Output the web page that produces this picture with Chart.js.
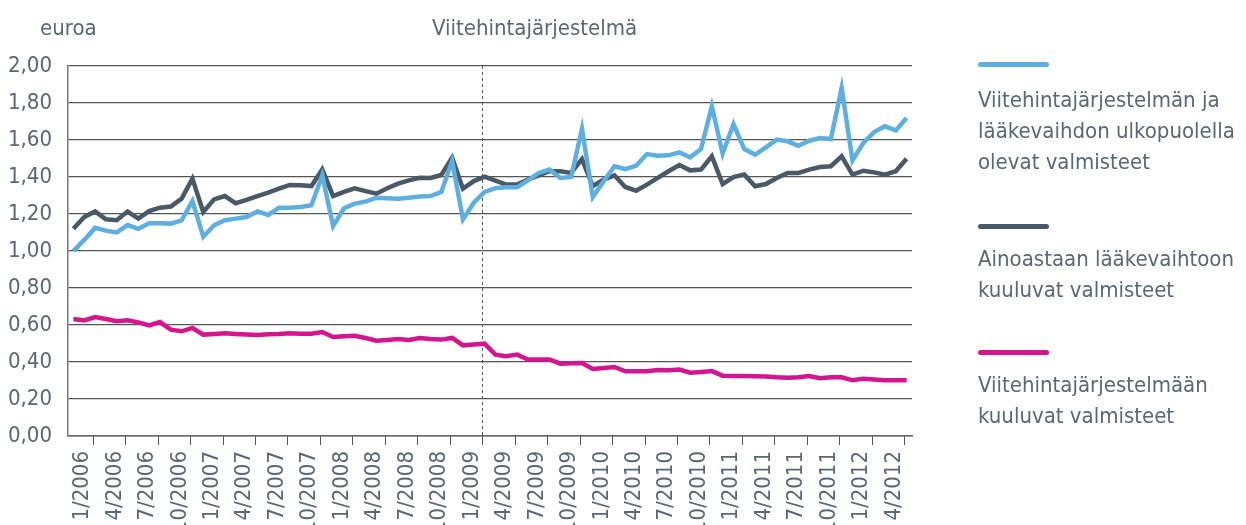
<!DOCTYPE html>
<html lang="fi">
<head>
<meta charset="utf-8">
<script src="https://cdn.jsdelivr.net/npm/chart.js@4.4.1/dist/chart.umd.min.js"></script>
<style>
    body {
        margin: 0;
        background: #fff;
        overflow: hidden;
    }
    #wrap {
        position: relative;
        width: 1246px;
        height: 525px;
        font-family: "DejaVu Sans Condensed", "Liberation Sans", sans-serif;
        color: #5a6775;
    }
    .note {
        position: absolute;
        font-size: 22px;
        line-height: 31px;
        white-space: nowrap;
    }
    .legend-item {
        position: absolute;
        left: 978px;
        font-size: 22px;
        line-height: 31px;
        white-space: nowrap;
    }
    .legend-item .swatch {
        width: 71px;
        height: 5px;
        border-radius: 3px;
        margin-bottom: 14px;
    }
</style>
</head>
<body>
<div id="wrap">
    <canvas id="priceChart"></canvas>
    <div class="note" style="left: 40px; top: 12px;">euroa</div>
    <div class="note" style="left: 432px; top: 12px;">Viitehintajärjestelmä</div>
    <div id="legend"></div>
</div>

<script>
// =========================
// DATA
// =========================

const months = [
    "1/2006", "2/2006", "3/2006", "4/2006", "5/2006", "6/2006", "7/2006", "8/2006", "9/2006", "10/2006", "11/2006", "12/2006",
    "1/2007", "2/2007", "3/2007", "4/2007", "5/2007", "6/2007", "7/2007", "8/2007", "9/2007", "10/2007", "11/2007", "12/2007",
    "1/2008", "2/2008", "3/2008", "4/2008", "5/2008", "6/2008", "7/2008", "8/2008", "9/2008", "10/2008", "11/2008", "12/2008",
    "1/2009", "2/2009", "3/2009", "4/2009", "5/2009", "6/2009", "7/2009", "8/2009", "9/2009", "10/2009", "11/2009", "12/2009",
    "1/2010", "2/2010", "3/2010", "4/2010", "5/2010", "6/2010", "7/2010", "8/2010", "9/2010", "10/2010", "11/2010", "12/2010",
    "1/2011", "2/2011", "3/2011", "4/2011", "5/2011", "6/2011", "7/2011", "8/2011", "9/2011", "10/2011", "11/2011", "12/2011",
    "1/2012", "2/2012", "3/2012", "4/2012", "5/2012", "6/2012",
];

const outsideValues = [
    1.00, 1.06, 1.125, 1.11, 1.10, 1.14, 1.12, 1.15, 1.15, 1.148, 1.166, 1.27,
    1.077, 1.139, 1.166, 1.175, 1.184, 1.214, 1.195, 1.234, 1.234, 1.238, 1.247, 1.409,
    1.135, 1.231, 1.256, 1.267, 1.288, 1.285, 1.283, 1.288, 1.294, 1.297, 1.319, 1.486,
    1.171, 1.261, 1.319, 1.34, 1.344, 1.344, 1.382, 1.422, 1.44, 1.395, 1.40, 1.661,
    1.292, 1.377, 1.458, 1.443, 1.461, 1.524, 1.515, 1.517, 1.533, 1.506, 1.551, 1.782,
    1.526, 1.686, 1.551, 1.521, 1.56, 1.602, 1.593, 1.569, 1.596, 1.611, 1.605, 1.881,
    1.49, 1.584, 1.643, 1.674, 1.652, 1.719,
];

const substitutionValues = [
    1.12, 1.184, 1.214, 1.171, 1.166, 1.213, 1.175, 1.216, 1.234, 1.24, 1.283, 1.391,
    1.211, 1.279, 1.297, 1.258, 1.276, 1.297, 1.315, 1.337, 1.357, 1.355, 1.351, 1.441,
    1.297, 1.319, 1.339, 1.324, 1.31, 1.339, 1.364, 1.382, 1.396, 1.395, 1.411, 1.505,
    1.337, 1.378, 1.402, 1.38, 1.359, 1.359, 1.386, 1.409, 1.431, 1.431, 1.422, 1.497,
    1.35, 1.386, 1.409, 1.346, 1.326, 1.359, 1.395, 1.431, 1.465, 1.436, 1.44, 1.512,
    1.362, 1.40, 1.413, 1.35, 1.362, 1.395, 1.422, 1.422, 1.44, 1.454, 1.458, 1.512,
    1.413, 1.434, 1.425, 1.413, 1.431, 1.499,
];

const referenceValues = [
    0.632, 0.625, 0.643, 0.632, 0.62, 0.625, 0.614, 0.598, 0.616, 0.575, 0.566, 0.584,
    0.548, 0.551, 0.555, 0.551, 0.548, 0.546, 0.55, 0.551, 0.555, 0.553, 0.553, 0.562,
    0.535, 0.539, 0.542, 0.53, 0.515, 0.519, 0.524, 0.519, 0.53, 0.524, 0.521, 0.53,
    0.49, 0.494, 0.499, 0.44, 0.431, 0.44, 0.413, 0.413, 0.414, 0.391, 0.393, 0.395,
    0.362, 0.368, 0.373, 0.35, 0.35, 0.35, 0.357, 0.355, 0.359, 0.342, 0.346, 0.351,
    0.326, 0.324, 0.324, 0.323, 0.321, 0.317, 0.315, 0.317, 0.324, 0.312, 0.317, 0.317,
    0.301, 0.31, 0.306, 0.301, 0.301, 0.301,
];

const seriesNames = [
    ["Viitehintajärjestelmän ja", "lääkevaihdon ulkopuolella", "olevat valmisteet"],
    ["Ainoastaan lääkevaihtoon", "kuuluvat valmisteet"],
    ["Viitehintajärjestelmään", "kuuluvat valmisteet"],
];

const seriesColors = ["#5dafe2", "#4a5967", "#d5148f"];

// label every third month, tick marks sit between the labels
const labelStep = 3;
const tickShift = 1.78;
const reformTick = 12;

const textColor = "#5a6775";
const fontFamily = '"DejaVu Sans Condensed", "Liberation Sans", sans-serif';

// =========================
// TICK MARKS + REFORM LINE
// =========================

const axisMarks = {
    id: "axisMarks",

    beforeDatasetsDraw(chart) {
        const { ctx, scales: { x, y } } = chart;

        ctx.save();
        ctx.strokeStyle = "#555";
        ctx.lineWidth = 1;
        ctx.setLineDash([3, 3]);

        const dx = Math.round(x.getPixelForValue(reformTick * labelStep + tickShift)) + 0.5;

        ctx.beginPath();
        ctx.moveTo(dx, y.top);
        ctx.lineTo(dx, y.bottom);
        ctx.stroke();
        ctx.restore();
    },

    afterDraw(chart) {
        const { ctx, scales: { x, y } } = chart;

        ctx.save();
        ctx.strokeStyle = "#555";
        ctx.lineWidth = 1;

        for (let k = 0; k < months.length; k += labelStep) {
            const px = Math.round(x.getPixelForValue(k + tickShift)) + 0.5;

            if (px > x.right) break;

            ctx.beginPath();
            ctx.moveTo(px, y.bottom);
            ctx.lineTo(px, y.bottom + 9);
            ctx.stroke();
        }

        ctx.restore();
    },
};

// =========================
// CHART
// =========================

const ctx = document.getElementById("priceChart");

const chart = new Chart(ctx, {
    type: "line",

    data: {
        labels: months,

        datasets: [outsideValues, substitutionValues, referenceValues].map((values, i) => ({
            label: seriesNames[i].join(" "),
            data: values,
            borderColor: seriesColors[i],
            backgroundColor: seriesColors[i],
            borderWidth: 4.5,
            pointRadius: 0,
            tension: 0,
            fill: false,
        })),
    },

    options: {
        responsive: true,
        maintainAspectRatio: false,
        animation: false,
        events: [],

        layout: {
            padding: { top: 66, right: 334, bottom: 0, left: 0 },
        },

        plugins: {
            legend: { display: false },
            tooltip: { enabled: false },
        },

        scales: {
            x: {
                offset: true,
                afterFit: (scale) => {
                    scale.height = 89;
                },
                grid: {
                    drawOnChartArea: false,
                    drawTicks: false,
                },
                border: {
                    color: "#666",
                    width: 1.5,
                },
                ticks: {
                    autoSkip: false,
                    minRotation: 90,
                    maxRotation: 90,
                    padding: 15,
                    labelOffset: 9,
                    color: textColor,
                    font: { family: fontFamily, size: 22 },
                    callback: function (value, index) {
                        return index % labelStep === 0 ? months[index] : "";
                    },
                },
            },

            y: {
                min: 0,
                max: 2,
                afterFit: (scale) => {
                    scale.width = 68;
                },
                grid: {
                    color: "#555",
                    lineWidth: 1.2,
                    drawTicks: false,
                },
                border: {
                    color: "#777",
                    width: 1.5,
                },
                ticks: {
                    stepSize: 0.2,
                    padding: 16,
                    color: textColor,
                    font: { family: fontFamily, size: 22 },
                    callback: function (value) {
                        return value.toFixed(2).replace(".", ",");
                    },
                },
            },
        },
    },

    plugins: [axisMarks],
});

// =========================
// LEGEND
// =========================

const legendTops = [62, 224, 350];
const legendGaps = [17, 14, 14];
const legendBox = document.getElementById("legend");

seriesNames.forEach((lines, i) => {
    const item = document.createElement("div");
    item.className = "legend-item";
    item.style.top = legendTops[i] + "px";

    const swatch = document.createElement("div");
    swatch.className = "swatch";
    swatch.style.background = seriesColors[i];
    swatch.style.marginBottom = legendGaps[i] + "px";
    item.appendChild(swatch);

    lines.forEach((line) => {
        const row = document.createElement("div");
        row.textContent = line;
        item.appendChild(row);
    });

    legendBox.appendChild(item);
});
</script>
</body>
</html>
